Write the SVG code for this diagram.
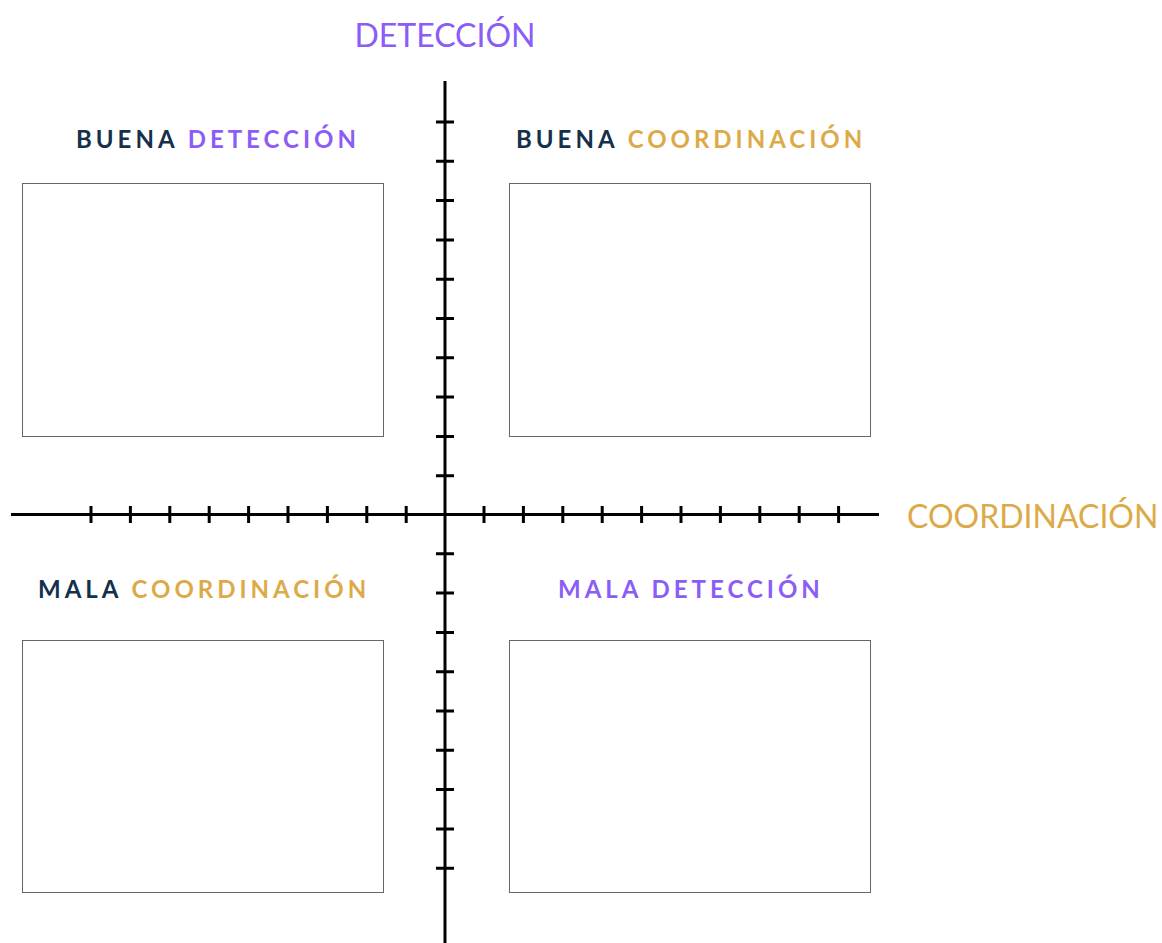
<svg xmlns="http://www.w3.org/2000/svg" width="1162" height="943" viewBox="0 0 1162 943">
<style>
.axis{stroke:#000;stroke-width:3;fill:none}
.box{fill:#fff;stroke:#666;stroke-width:1}
.ttl{font-family:Lato,"Open Sans",sans-serif;font-size:32px;font-weight:400}
.q{font-family:Lato,"Open Sans",sans-serif;font-size:24px;font-weight:700;letter-spacing:4px}
.navy{fill:#14304a}
.purple{fill:#8b5cf6}
.gold{fill:#dcaa48}
</style>
<rect width="1162" height="943" fill="#fff"/>
<g id="connectors">
<line class="axis" x1="11" y1="514.5" x2="879" y2="514.5"/>
<line class="axis" x1="445" y1="81" x2="445" y2="943"/>
<path class="axis" d="M91,506v17 M130.4,506v17 M169.8,506v17 M209.2,506v17 M248.6,506v17 M288,506v17 M327.4,506v17 M366.8,506v17 M406.2,506v17 M484,506v17 M523.4,506v17 M562.8,506v17 M602.2,506v17 M641.6,506v17 M681,506v17 M720.4,506v17 M759.8,506v17 M799.2,506v17 M838.6,506v17"/>
<path class="axis" d="M436,122h18 M436,161.3h18 M436,200.6h18 M436,239.9h18 M436,279.2h18 M436,318.5h18 M436,357.8h18 M436,397.1h18 M436,436.4h18 M436,475.7h18 M436,553.8h18 M436,593.1h18 M436,632.4h18 M436,671.7h18 M436,711h18 M436,750.3h18 M436,789.6h18 M436,828.9h18 M436,868.2h18"/>
</g>
<g id="axis-labels">
<text class="ttl purple" x="445" y="47" text-anchor="middle">DETECCIÓN</text>
<text class="ttl gold" x="907" y="528">COORDINACIÓN</text>
</g>
<g id="q-top-left">
<text class="q" x="76" y="148"><tspan class="navy">BUENA </tspan><tspan class="purple">DETECCIÓN</tspan></text>
<rect class="box" x="22.5" y="183.5" width="361" height="253"/>
</g>
<g id="q-top-right">
<text class="q" x="516" y="148"><tspan class="navy">BUENA </tspan><tspan class="gold">COORDINACIÓN</tspan></text>
<rect class="box" x="509.5" y="183.5" width="361" height="253"/>
</g>
<g id="q-bottom-left">
<text class="q" x="38" y="598"><tspan class="navy">MALA </tspan><tspan class="gold">COORDINACIÓN</tspan></text>
<rect class="box" x="22.5" y="640.5" width="361" height="252"/>
</g>
<g id="q-bottom-right">
<text class="q purple" x="558" y="598">MALA DETECCIÓN</text>
<rect class="box" x="509.5" y="640.5" width="361" height="252"/>
</g>
</svg>
